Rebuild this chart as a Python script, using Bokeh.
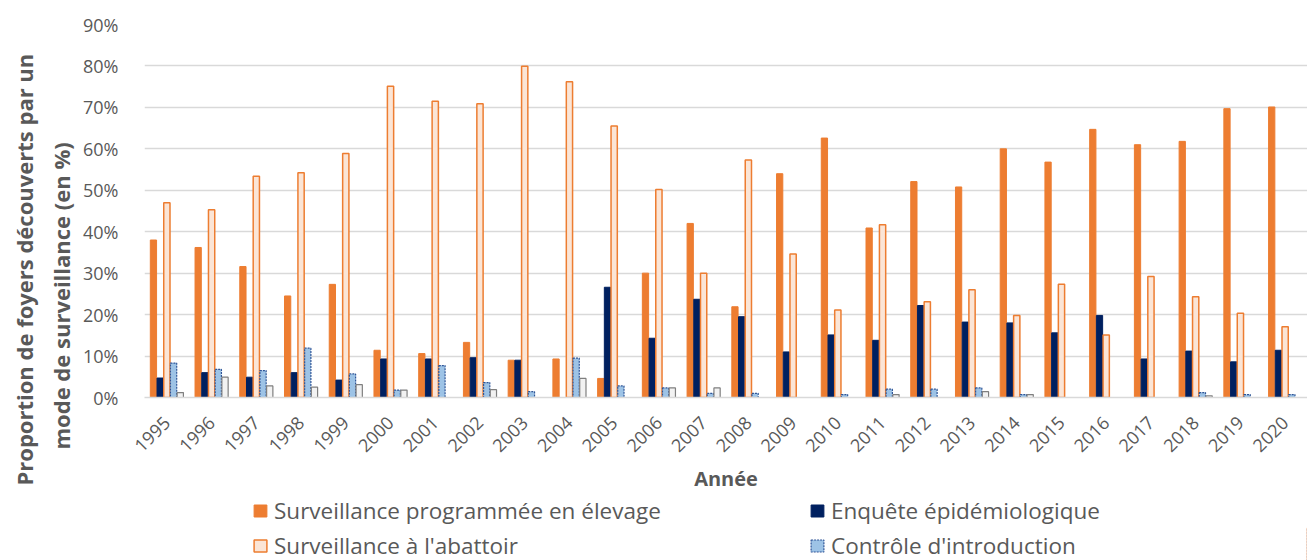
from bokeh.plotting import figure
from bokeh.models import (ColumnDataSource, FactorRange, Range1d, FixedTicker,
                          NumeralTickFormatter, Legend, LegendItem, Title)
from bokeh.layouts import column
from bokeh.transform import dodge
from bokeh.embed import file_html
from bokeh.resources import INLINE
import math

years = [str(y) for y in range(1995, 2021)]
prog = [38.0, 36.2, 31.6, 24.5, 27.3, 11.4, 10.6, 13.3, 9.0, 9.3, 4.6, 30.0, 42.0,
        21.9, 54.0, 62.6, 40.9, 52.1, 50.8, 60.0, 56.8, 64.7, 61.0, 61.8, 69.7, 70.1]
enq = [4.7, 6.0, 4.9, 6.0, 4.2, 9.3, 9.3, 9.6, 9.0, 0.0, 26.6, 14.3, 23.7,
       19.5, 11.0, 15.1, 13.8, 22.2, 18.2, 18.0, 15.6, 19.8, 9.3, 11.2, 8.6, 11.4]
abat = [47.0, 45.3, 53.4, 54.2, 58.9, 75.1, 71.5, 70.9, 79.9, 76.2, 65.5, 50.2, 30.0,
        57.3, 34.6, 21.1, 41.7, 23.1, 26.0, 19.8, 27.3, 15.1, 29.2, 24.3, 20.3, 17.1]
ctrl = [8.3, 6.8, 6.5, 11.9, 5.7, 1.8, 7.7, 3.6, 1.4, 9.5, 2.8, 2.3, 1.0,
        1.0, 0.0, 0.7, 2.0, 2.0, 2.3, 0.7, 0.0, 0.0, 0.0, 1.2, 0.7, 0.7]
autre = [1.2, 4.9, 2.8, 2.5, 3.1, 1.8, 0.0, 1.9, 0.0, 4.6, 0.0, 2.3, 2.3,
         0.0, 0.0, 0.0, 0.7, 0.0, 1.4, 0.7, 0.0, 0.0, 0.0, 0.4, 0.0, 0.0]
yticks = [0.0, 0.1, 0.2, 0.3, 0.4, 0.5, 0.6, 0.7, 0.8, 0.9]
series_labels = ["Surveillance programmée en élevage", "Enquête épidémiologique",
                 "Surveillance à l'abattoir", "Contrôle d'introduction"]
ylabel_lines = ["Proportion de foyers découverts par un", "mode de surveillance (en %)"]

src = ColumnDataSource(dict(
    year=years,
    prog=[v / 100 for v in prog],
    enq=[v / 100 for v in enq],
    abat=[v / 100 for v in abat],
    ctrl=[v / 100 for v in ctrl],
    autre=[v / 100 for v in autre],
))

FONT = "Open Sans"
GRAY = "#595959"
STYLES = [
    dict(fill_color="#ED7D31", line_color="#ED7D31", line_width=1),
    dict(fill_color="#002060", line_color="#002060", line_width=1),
    dict(fill_color="#FBE5D6", line_color="#ED7D31", line_width=1.5),
    dict(fill_color="#9DC3E6", line_color="#2F5597", line_width=1.2, line_dash="2 1"),
    dict(fill_color="#F2F2F2", line_color="#7F7F7F", line_width=1.2),
]

p = figure(x_range=FactorRange(*years, range_padding=0), y_range=Range1d(0, 0.9),
           frame_width=1163, frame_height=373,
           min_border_left=144, min_border_right=0, min_border_top=24, min_border_bottom=0,
           output_backend="svg", toolbar_location=None)
p.outline_line_color = None

w = 0.14
offsets = [-0.30, -0.15, 0.0, 0.15, 0.30]
cols = ["prog", "enq", "abat", "ctrl", "autre"]
for off, col, st in zip(offsets, cols, STYLES):
    p.vbar(x=dodge("year", off, range=p.x_range), top=col, width=w, source=src, **st)

p.yaxis.ticker = FixedTicker(ticks=yticks)
p.yaxis.formatter = NumeralTickFormatter(format="0%")
p.yaxis.axis_line_color = None
p.yaxis.major_tick_line_color = None
p.yaxis.minor_tick_line_color = None
p.yaxis.major_label_text_font = FONT
p.yaxis.major_label_text_font_size = "18px"
p.yaxis.major_label_text_color = GRAY
p.yaxis.major_label_standoff = 20

# y title: two lines placed in the left panel, starting below the frame bottom
p.add_layout(Title(text=ylabel_lines[1], align="left", offset=-52, standoff=10,
                   text_font=FONT, text_font_size="22px", text_font_style="bold",
                   text_color=GRAY), "left")
p.add_layout(Title(text=ylabel_lines[0], align="left", offset=-88, standoff=0,
                   text_font=FONT, text_font_size="22px", text_font_style="bold",
                   text_color=GRAY), "left")

p.xaxis.axis_line_color = "#D9D9D9"
p.xaxis.axis_line_width = 1.5
p.xaxis.major_tick_line_color = None
p.xaxis.minor_tick_line_color = None
p.xaxis.major_label_orientation = math.pi / 4
p.xaxis.major_label_text_font = FONT
p.xaxis.major_label_text_font_size = "18px"
p.xaxis.major_label_text_color = GRAY
p.xaxis.major_label_standoff = 16
p.xaxis.axis_label = "Année"
p.xaxis.axis_label_text_font = FONT
p.xaxis.axis_label_text_font_size = "20px"
p.xaxis.axis_label_text_font_style = "bold"
p.xaxis.axis_label_text_color = GRAY
p.xaxis.axis_label_standoff = 4

p.xgrid.grid_line_color = None
p.ygrid.grid_line_color = "#D9D9D9"
p.ygrid.grid_line_width = 1.5

# legend drawn in its own strip below the chart
lf = figure(width=1307, height=67, x_range=Range1d(0, 1), y_range=Range1d(0, 1),
            min_border_left=0, min_border_right=0, min_border_top=0, min_border_bottom=0,
            output_backend="svg", toolbar_location=None)
lf.axis.visible = False
lf.grid.visible = False
lf.outline_line_color = None
items = []
for lab, st in zip(series_labels, STYLES[:4]):
    r = lf.vbar(x=[5], top=[0.5], width=0.1, **st)
    items.append(LegendItem(label=lab, renderers=[r]))

legend = Legend(items=items, orientation="horizontal", ncols=2, location=(108, 0),
                label_text_font=FONT, label_text_font_size="22.5px", label_text_color=GRAY,
                glyph_width=16, glyph_height=15, label_standoff=6, spacing=4,
                label_width=531, label_height=22, padding=0, margin=0,
                border_line_color=None, background_fill_alpha=0)
lf.add_layout(legend, "center")

open("out.html", "w").write(file_html(column(p, lf, spacing=0), INLINE))
